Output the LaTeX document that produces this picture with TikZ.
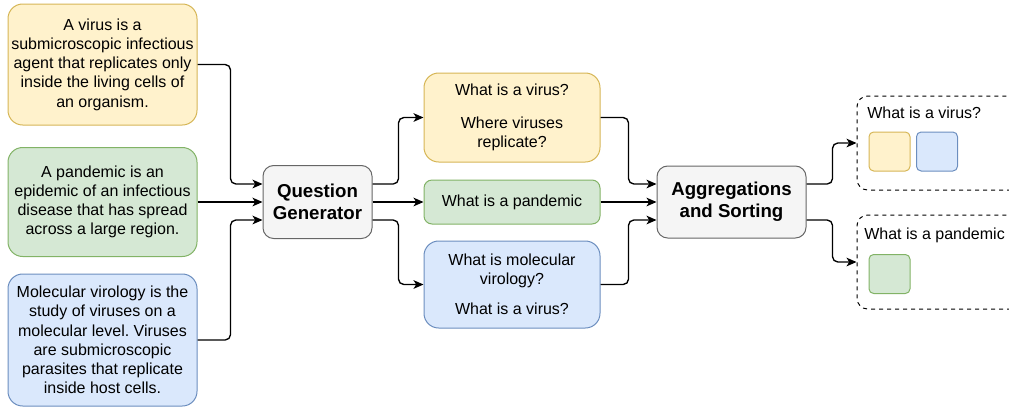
\documentclass[tikz,border=0pt]{standalone}
\usepackage{fontspec}
\setmainfont{Liberation Sans}
\usepackage{tikz}
\usetikzlibrary{calc,arrows.meta,positioning}
\definecolor{fillYellow}{HTML}{FFF2CC}
\definecolor{drawYellow}{HTML}{D6B656}
\definecolor{fillGreen}{HTML}{D5E8D4}
\definecolor{drawGreen}{HTML}{82B366}
\definecolor{fillBlue}{HTML}{DAE8FC}
\definecolor{drawBlue}{HTML}{6C8EBF}
\definecolor{fillGray}{HTML}{F5F5F5}
\definecolor{drawGray}{HTML}{666666}
\newcommand{\fontBox}{\fontsize{12}{14.4}\selectfont}
\newcommand{\fontBold}{\fontsize{14}{16.8}\selectfont\bfseries}
\frenchspacing

\begin{document}
\begin{tikzpicture}[x=0.75pt, y=-0.75pt,
        box/.style={draw, rounded corners=11pt, line width=0.75pt, align=center, inner sep=0pt, font=\fontBox},
        yellowbox/.style={box, fill=fillYellow, draw=drawYellow},
        greenbox/.style={box, fill=fillGreen, draw=drawGreen},
        bluebox/.style={box, fill=fillBlue, draw=drawBlue},
        graybox/.style={box, fill=fillGray, draw=drawGray, rounded corners=8pt, font=\fontBold},
        group/.style={draw, dashed, rounded corners=8pt, line width=0.75pt, minimum width=150pt, minimum height=70.5pt, inner sep=0pt},
        chip/.style={draw, rounded corners=3.5pt, line width=0.75pt, minimum width=30.75pt, minimum height=29.25pt, inner sep=0pt},
        conn/.style={-{Stealth[length=7.5pt, width=6.5pt, inset=2pt]}, line width=1pt, rounded corners=4pt}]

        \useasboundingbox (0, 0) rectangle (1009, 408);

        \node[yellowbox, minimum width=141.75pt, minimum height=90.75pt] (ctxvirus) at (102.5, 64.5)
                {A virus is a\\submicroscopic infectious\\agent that replicates only\\inside the living cells of\\an organism.};
        \node[greenbox, minimum width=141.75pt, minimum height=81.75pt] (ctxpandemic) at (102.5, 202)
                {A pandemic is an\\epidemic of an infectious\\disease that has spread\\across a large region.};
        \node[bluebox, minimum width=141.75pt, minimum height=99pt] (ctxvirology) at (102.5, 340)
                {Molecular virology is the\\study of viruses on a\\molecular level. Viruses\\are submicroscopic\\parasites that replicate\\inside host cells.};

        \node[graybox, minimum width=81.75pt, minimum height=54.75pt] (qgen) at (317.5, 202) {Question\\Generator};

        \node[yellowbox, minimum width=132pt, minimum height=66.75pt] (qvirus) at (512, 117.5)
                {What is a virus?\\[10pt]Where viruses\\replicate?};
        \node[greenbox, minimum width=132pt, minimum height=33pt, rounded corners=6pt] (qpandemic) at (512, 202)
                {What is a pandemic};
        \node[bluebox, minimum width=132pt, minimum height=65.25pt] (qvirology) at (512, 284.5)
                {What is molecular\\virology?\\[8pt]What is a virus?};

        \node[graybox, minimum width=111.75pt, minimum height=54pt] (aggsort) at (731.5, 202) {Aggregations\\and Sorting};

        \node[group] (grpvirus) at (957, 143) {};
        \node[group] (grppandemic) at (957, 262) {};
        \node[anchor=west, inner sep=0pt, font=\fontBox] (lblvirus) at (867, 113) {What is a virus?};
        \node[anchor=west, inner sep=0pt, font=\fontBox] (lblpandemic) at (864, 235) {What is a pandemic};
        \node[chip, fill=fillYellow, draw=drawYellow] (chipyellow) at (889.5, 151.5) {};
        \node[chip, fill=fillBlue, draw=drawBlue] (chipblue) at (937, 151.5) {};
        \node[chip, fill=fillGreen, draw=drawGreen] (chipgreen) at (889.5, 274) {};

        \draw[conn] (ctxvirus.east) -- ++(33, 0) |- ([yshift=13.5pt]qgen.west);
        \draw[conn] (ctxpandemic.east) -- (qgen.west);
        \draw[conn] (ctxvirology.east) -- ++(33, 0) |- ([yshift=-13.5pt]qgen.west);

        \draw[conn] ([yshift=13.5pt]qgen.east) -- ++(26, 0) |- (qvirus.west);
        \draw[conn] (qgen.east) -- (qpandemic.west);
        \draw[conn] ([yshift=-13.5pt]qgen.east) -- ++(26, 0) |- (qvirology.west);

        \draw[conn] (qvirus.east) -- ++(28, 0) |- ([yshift=13.5pt]aggsort.west);
        \draw[conn] (qpandemic.east) -- (aggsort.west);
        \draw[conn] (qvirology.east) -- ++(28, 0) |- ([yshift=-13.5pt]aggsort.west);

        \draw[conn] ([yshift=13.5pt]aggsort.east) -- ++(26, 0) |- (grpvirus.west);
        \draw[conn] ([yshift=-13.5pt]aggsort.east) -- ++(26, 0) |- (grppandemic.west);

\end{tikzpicture}
\end{document}
